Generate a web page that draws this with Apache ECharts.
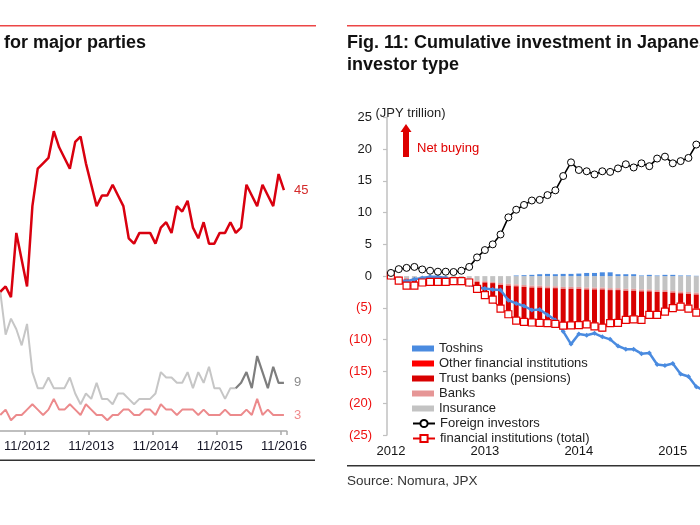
<!DOCTYPE html>
<html><head><meta charset="utf-8">
<script src="https://cdn.jsdelivr.net/npm/echarts@6/dist/echarts.min.js"></script>
<style>html,body{margin:0;padding:0;background:#fff;overflow:hidden}#c{width:700px;height:525px}</style>
</head><body><div id="c"></div><script>
// ---------- Left chart: party support (visible part) ----------
const leftMonths = ['6/2012','7/2012','8/2012','9/2012','10/2012','11/2012','12/2012',
 '1/2013','2/2013','3/2013','4/2013','5/2013','6/2013','7/2013','8/2013','9/2013','10/2013','11/2013','12/2013',
 '1/2014','2/2014','3/2014','4/2014','5/2014','6/2014','7/2014','8/2014','9/2014','10/2014','11/2014','12/2014',
 '1/2015','2/2015','3/2015','4/2015','5/2015','6/2015','7/2015','8/2015','9/2015','10/2015','11/2015','12/2015',
 '1/2016','2/2016','3/2016','4/2016','5/2016','6/2016','7/2016','8/2016','9/2016','10/2016','11/2016'];
const partyRed = [26,27,25,37,32,27,42,49,50,51, 56,53,51,49,54,55,50,46,42,44, 44,46,44,42,36,35,37,37,37,35,
 38,39,37,42,41,43,38,36,39,35, 35,37,37,39,37,38,46,44,42,46, 44,42,48,45];
const partyGrayOld = [26,18,21,19,16,20,11,8,8,10, 8,8,8,10,7,5,7,6,9,6, 6,5,7,7,6,5,6,6,6,7,
 11,10,10,9,9,11,8,11,9,12, 8,8,6,8,8, null,null,null,null,null,null,null,null,null];
const partyGrayNew = [null,null,null,null,null,null,null,null,null,null, null,null,null,null,null,null,null,null,null,null,
 null,null,null,null,null,null,null,null,null,null, null,null,null,null,null,null,null,null,null,null,
 null,null,null,null, 8,9,11,8,14,11,8,12,9,9];
const partyPink = [3,4,2,3,3,4,5,4,3,4, 6,4,4,5,4,3,5,4,3,3, 2,3,3,4,4,3,3,4,4,3,
 5,4,4,3,4,4,4,3,4,3, 3,3,4,3,3,3,4,3,6,3, 4,3,3,3];

// ---------- Right chart: cumulative investment (JPY trillion) ----------
const rightMonths = ['2012-01','2012-02','2012-03','2012-04','2012-05','2012-06','2012-07','2012-08','2012-09','2012-10','2012-11','2012-12',
 '2013-01','2013-02','2013-03','2013-04','2013-05','2013-06','2013-07','2013-08','2013-09','2013-10','2013-11','2013-12',
 '2014-01','2014-02','2014-03','2014-04','2014-05','2014-06','2014-07','2014-08','2014-09','2014-10','2014-11','2014-12',
 '2015-01','2015-02','2015-03','2015-04','2015-05','2015-06','2015-07','2015-08','2015-09','2015-10','2015-11','2015-12'];
const yTicks = [-25,-20,-15,-10,-5,0,5,10,15,20,25];
const foreign = [0.5,1.1,1.3,1.45,1.05,0.85,0.7,0.7,0.65,0.85, 1.45,2.95,4.1,5.0,6.55,9.25,10.45,11.2,11.9,12.0,
 12.75,13.5,15.75,17.9,16.7,16.5,16.0,16.5,16.4,16.95, 17.6,17.1,17.75,17.3,18.5,18.8,17.75,18.1,18.6,20.7, 21.3];
const blueLine = [-0.2,-0.6,-0.8,-0.5,-0.3,-0.1,-0.1,-0.3,-0.6,-0.9, -1.3,-1.8,-1.95,-2.1,-2.2,-3.8,-4.3,-4.7,-5.35,-5.25,
 -6.1,-6.9,-8.7,-10.7,-9.1,-9.3,-9.0,-9.55,-9.95,-11.0, -11.5,-11.5,-12.2,-12.1,-13.9,-14.05,-13.75,-15.4,-15.8,-17.4, -18.0];
const finTotal = [0.1,-0.7,-1.5,-1.5,-1.0,-0.9,-0.9,-0.9,-0.8,-0.8, -1.0,-2.0,-3.0,-3.7,-5.1,-6.0,-7.0,-7.2,-7.3,-7.35,
 -7.4,-7.5,-7.8,-7.75,-7.7,-7.6,-7.9,-8.1,-7.4,-7.35, -6.9,-6.8,-6.9,-6.1,-6.1,-5.6,-5.05,-4.8,-5.1,-5.75, -6.0];
const insurance = [-0.1,-0.2,-0.3,-0.3,-0.4,-0.4,-0.5,-0.5,-0.5,-0.5, -0.6,-0.7,-0.8,-0.9,-1.1,-1.2,-1.3,-1.4,-1.5,-1.5,
 -1.6,-1.6,-1.7,-1.7,-1.7,-1.8,-1.8,-1.8,-1.9,-1.9, -2.0,-2.0,-2.1,-2.1,-2.2,-2.2,-2.3,-2.4,-2.5,-2.6, -2.6];
const banks = [0,-0.1,-0.2,-0.2,-0.1,-0.1,-0.1,-0.1,-0.1,-0.1, -0.1,-0.2,-0.2,-0.2,-0.3,-0.3,-0.3,-0.3,-0.3,-0.3,
 -0.3,-0.3,-0.3,-0.3,-0.3,-0.3,-0.3,-0.3,-0.3,-0.3, -0.3,-0.3,-0.3,-0.3,-0.3,-0.3,-0.3,-0.3,-0.3,-0.3, -0.3];
const trustBanks = [0,-0.3,-0.8,-0.8,-0.4,-0.3,-0.2,-0.2,-0.1,-0.1, -0.2,-0.9,-1.7,-2.3,-3.3,-4.0,-4.9,-5.0,-5.1,-5.2,
 -5.2,-5.2,-5.4,-5.4,-5.4,-5.3,-5.6,-5.9,-5.1,-4.8, -4.2,-4.1,-3.9,-3.2,-3.0,-2.6,-2.0,-1.5,-1.7,-2.2, -2.4];
const otherFin = [0,-0.1,-0.2,-0.2,-0.1,-0.1,-0.1,-0.1,-0.1,-0.1, -0.1,-0.2,-0.3,-0.3,-0.4,-0.5,-0.6,-0.6,-0.6,-0.6,
 -0.7,-0.7,-0.7,-0.7,-0.7,-0.7,-0.7,-0.7,-0.7,-0.7, -0.7,-0.7,-0.7,-0.7,-0.7,-0.7,-0.7,-0.7,-0.7,-0.7, -0.7];
const toshins = [0,0,0,0,0,0,0,0,0,0, 0,0,0,0,0,0,0.1,0.15,0.2,0.3,
 0.35,0.3,0.35,0.35,0.4,0.5,0.5,0.6,0.6,0.3, 0.3,0.3,0.1,0.2,0.1,0.2,0.2,0.1,0.1,0.05, 0];

const FONT = "'Liberation Sans', Arial, Helvetica, sans-serif";
const chart = echarts.init(document.getElementById('c'), null, {renderer:'canvas'});

function txt(text, x, y, size, color, weight) {
  return {type:'text', silent:true, z:10, style:{text:text, x:x, y:y, fill:color,
    font:(weight||'normal') + ' ' + size + 'px ' + FONT, textAlign:'left',
    textVerticalAlign:'middle', verticalAlign:'middle'}};
}
function band(x1, x2, y, color, h) {
  return {type:'rect', silent:true, z:10, shape:{x:x1, y:y, width:x2 - x1, height:h}, style:{fill:color}};
}

const barBase = {type:'bar', xAxisIndex:1, yAxisIndex:1, stack:'fi', barCategoryGap:'36%', z:2};
const option = {
  animation:false,
  backgroundColor:'#fff',
  textStyle:{fontFamily:FONT},
  grid:[
    {left:-2.4, width:289, top:109.8, height:321.2, containLabel:false, outerBoundsMode:'none'},
    {left:387, width:375.84, top:117.25, height:317.75, containLabel:false, outerBoundsMode:'none'}
  ],
  legend:[
    {orient:'vertical', left:407, top:337, itemWidth:22, itemHeight:6, itemGap:2, icon:'rect',
     textStyle:{fontSize:13, color:'#222', fontFamily:FONT}, selectedMode:false,
     data:['Toshins','Other financial institutions','Trust banks (pensions)','Banks','Insurance']},
    {orient:'vertical', left:407, top:412, itemWidth:22, itemHeight:9, itemGap:2,
     textStyle:{fontSize:13, color:'#222', fontFamily:FONT}, selectedMode:false,
     data:['Foreign investors','financial institutions (total)']}
  ],
  xAxis:[
    {gridIndex:0, type:'category', data:leftMonths, boundaryGap:true,
     axisLine:{show:true, lineStyle:{color:'#aaaaaa', width:1.5}},
     axisTick:{show:true, length:4, interval:function(i,v){return String(v).indexOf('11/')===0;}, lineStyle:{color:'#aaaaaa', width:1.5}},
     axisLabel:{interval:function(i,v){return String(v).indexOf('11/')===0;}, margin:9, fontSize:13, color:'#151525', fontFamily:FONT},
     splitLine:{show:false}},
    {gridIndex:1, type:'category', data:rightMonths, boundaryGap:true,
     axisLine:{show:false}, axisTick:{show:false}, splitLine:{show:false},
     axisLabel:{interval:function(i){return i%12===0;}, formatter:function(v){return v.slice(0,4);},
       margin:10, fontSize:13, color:'#151515', fontFamily:FONT}}
  ],
  yAxis:[
    {gridIndex:0, type:'value', min:0, max:60, show:false, splitLine:{show:false}},
    {gridIndex:1, type:'value', min:yTicks[0], max:yTicks[yTicks.length-1], interval:5,
     axisLine:{show:true, lineStyle:{color:'#c0c0c0', width:1.5}},
     axisTick:{show:true, length:4, lineStyle:{color:'#c0c0c0', width:1.2}},
     splitLine:{show:false},
     axisLabel:{margin:15, fontSize:13, fontFamily:FONT,
       formatter:function(v){return v<0 ? '(' + (-v) + ')' : String(v);},
       color:function(v){return parseFloat(v)<0 ? '#ee1111' : '#1a1a1a';}}}
  ],
  series:[
    {name:'Pink party', type:'line', xAxisIndex:0, yAxisIndex:0, data:partyPink, showSymbol:false, z:3,
     lineStyle:{color:'#ec8a8c', width:2}, itemStyle:{color:'#ec8a8c'},
     endLabel:{show:true, formatter:'{c}', color:'#f08a8c', fontSize:13, distance:10, fontFamily:FONT}},
    {name:'Gray party', type:'line', xAxisIndex:0, yAxisIndex:0, data:partyGrayOld, showSymbol:false, z:3,
     lineStyle:{color:'#c6c6c6', width:2}, itemStyle:{color:'#c6c6c6'}},
    {name:'Gray party (new)', type:'line', xAxisIndex:0, yAxisIndex:0, data:partyGrayNew, showSymbol:false, z:4,
     lineStyle:{color:'#7e7e7e', width:2.2}, itemStyle:{color:'#7e7e7e'},
     endLabel:{show:true, formatter:'{c}', color:'#8a8a8a', fontSize:13, distance:10, fontFamily:FONT}},
    {name:'Red party', type:'line', xAxisIndex:0, yAxisIndex:0, data:partyRed, showSymbol:false, z:5,
     lineStyle:{color:'#d9000f', width:2.5}, itemStyle:{color:'#d9000f'},
     endLabel:{show:true, formatter:'{c}', color:'#d42a2a', fontSize:13, distance:10, fontFamily:FONT}},

    Object.assign({name:'Insurance', data:insurance, itemStyle:{color:'#c3c3c3'}}, barBase),
    Object.assign({name:'Banks', data:banks, itemStyle:{color:'#e69696'}}, barBase),
    Object.assign({name:'Trust banks (pensions)', data:trustBanks, itemStyle:{color:'#d80000'}}, barBase),
    Object.assign({name:'Other financial institutions', data:otherFin, itemStyle:{color:'#ff0000'}}, barBase),
    Object.assign({name:'Toshins', data:toshins, itemStyle:{color:'#4a8be0'}}, barBase),

    {name:'Individuals', type:'line', xAxisIndex:1, yAxisIndex:1, data:blueLine, z:5,
     symbol:'diamond', symbolSize:5, showSymbol:true, showAllSymbol:true,
     lineStyle:{color:'#4a8be0', width:2.5}, itemStyle:{color:'#4a8be0'}},
    {name:'financial institutions (total)', type:'line', xAxisIndex:1, yAxisIndex:1, data:finTotal, z:6,
     symbol:'rect', symbolSize:7, showSymbol:true, showAllSymbol:true,
     lineStyle:{color:'#e60000', width:1.3}, itemStyle:{color:'#ffffff', borderColor:'#e60000', borderWidth:1.2}},
    {name:'Foreign investors', type:'line', xAxisIndex:1, yAxisIndex:1, data:foreign, z:7,
     symbol:'circle', symbolSize:7, showSymbol:true, showAllSymbol:true,
     lineStyle:{color:'#000000', width:1.6}, itemStyle:{color:'#ffffff', borderColor:'#000000', borderWidth:1}}
  ],
  graphic:[
    band(0, 316, 25, '#ec4646', 1.5),
    band(347, 700, 25, '#ec4646', 1.5),
    band(0, 315, 459.5, '#333333', 1.6),
    band(347, 700, 465, '#333333', 1.6),
    txt('for major parties', 4, 43, 18, '#111', 'bold'),
    txt('Fig. 11: Cumulative investment in Japanese', 347, 43, 18, '#111', 'bold'),
    txt('investor type', 347, 65, 18, '#111', 'bold'),
    txt('(JPY trillion)', 375.5, 113, 13, '#222'),
    txt('Net buying', 417, 148, 13, '#e00000'),
    txt('Source: Nomura, JPX', 347, 481, 13.5, '#333'),
    {type:'polygon', silent:true, z:10,
     shape:{points:[[406,124],[411.5,132],[409,132],[409,157],[403,157],[403,132],[400.5,132]]},
     style:{fill:'#dd0000'}}
  ]
};
chart.setOption(option);
</script></body></html>
